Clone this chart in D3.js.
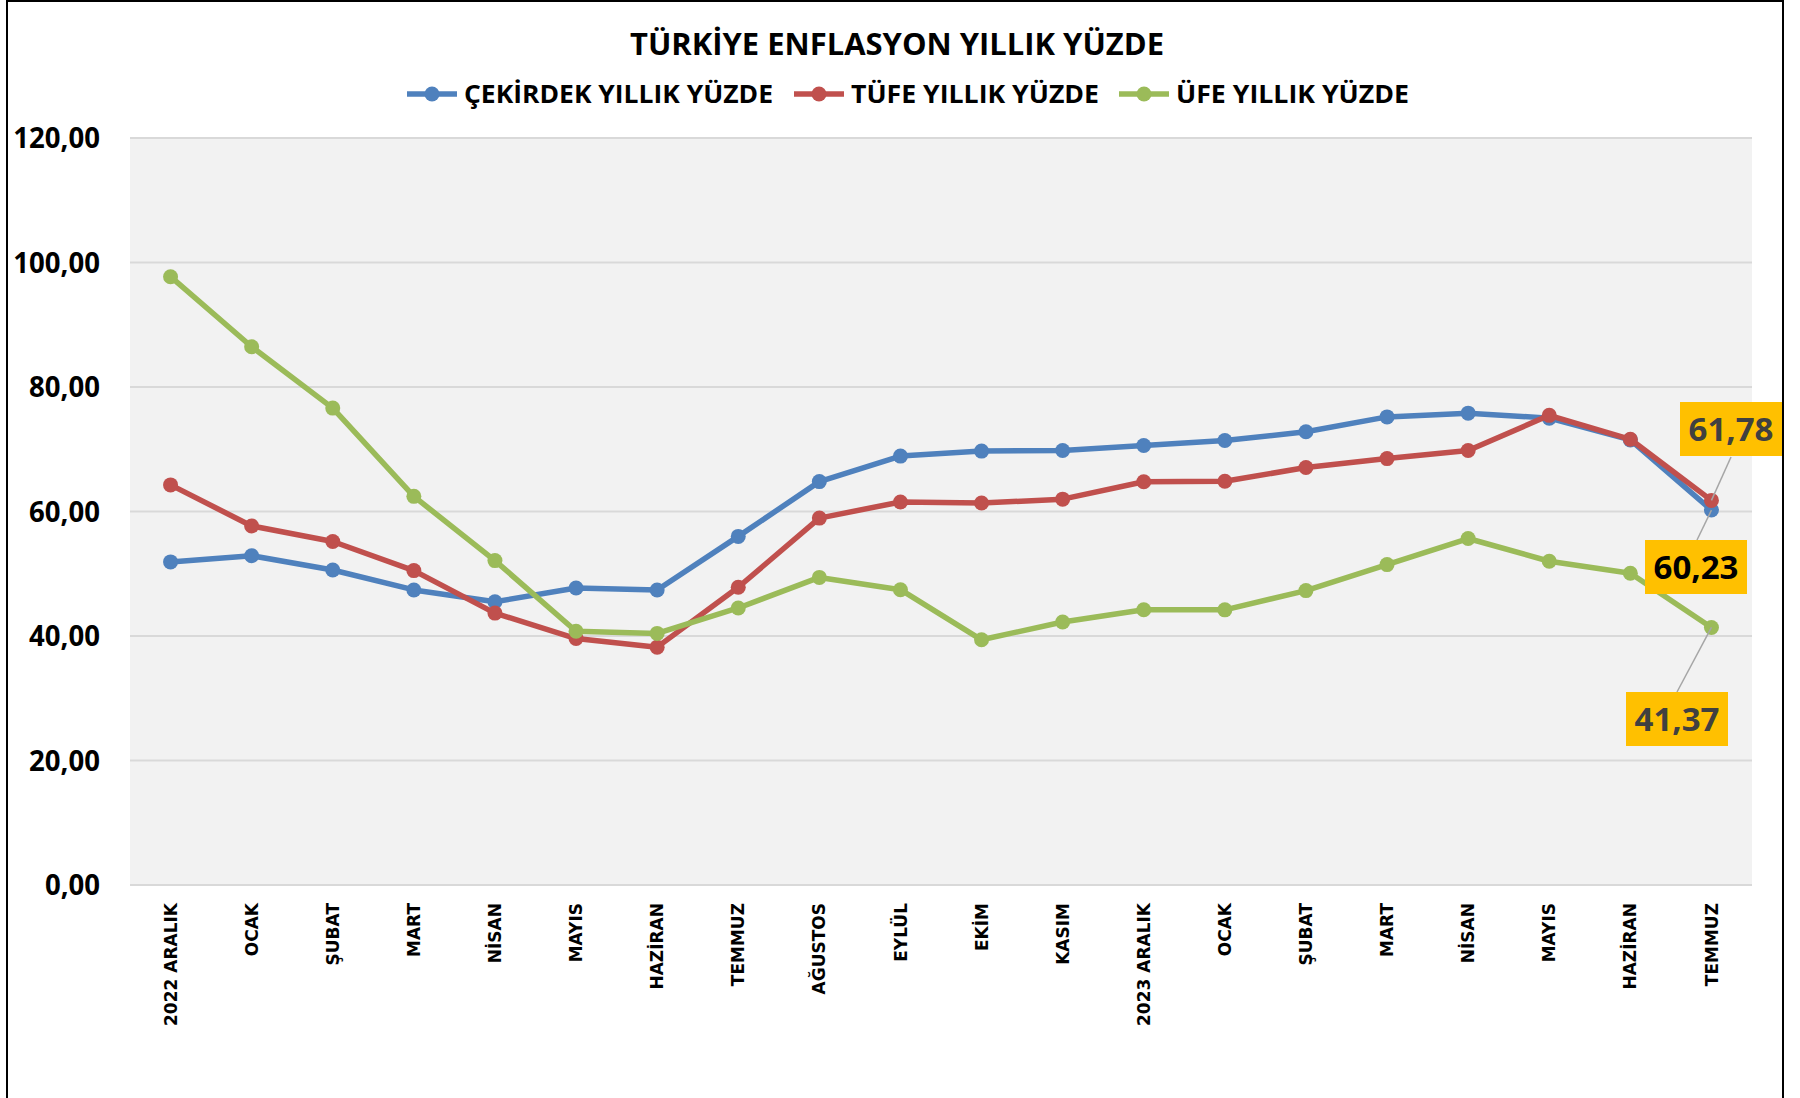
<!DOCTYPE html>
<html>
<head>
<meta charset="utf-8">
<script src="https://d3js.org/d3.v7.min.js"></script>
<style>
  body { margin: 0; background: #fff; }
  svg { display: block; }
  .ytick { font-family: "Open Sans", sans-serif; font-weight: 700; font-size: 29px; fill: #000; }
  .xtick { font-family: "DejaVu Sans", sans-serif; font-weight: bold; font-size: 17px; fill: #000; }
  .title, .legend, .dlabel { font-family: "Open Sans", sans-serif; font-weight: 700; }
</style>
</head>
<body>
<script>
// categories (Aralik 2022 - Temmuz 2024)
const months = ["2022 ARALIK", "OCAK", "ŞUBAT", "MART", "NİSAN", "MAYIS", "HAZİRAN", "TEMMUZ",
  "AĞUSTOS", "EYLÜL", "EKİM", "KASIM", "2023 ARALIK", "OCAK", "ŞUBAT", "MART", "NİSAN",
  "MAYIS", "HAZİRAN", "TEMMUZ"];

const cekirdek = [51.9, 52.9, 50.6, 47.4, 45.5, 47.7, 47.4, 56.0, 64.8, 68.9, 69.7, 69.8,
  70.6, 71.4, 72.8, 75.2, 75.8, 75.0, 71.5, 60.23];
const tufe = [64.27, 57.68, 55.18, 50.51, 43.68, 39.59, 38.21, 47.83, 58.94, 61.53, 61.36, 61.98,
  64.77, 64.86, 67.07, 68.50, 69.80, 75.45, 71.60, 61.78];
const ufe = [97.72, 86.46, 76.61, 62.43, 52.11, 40.76, 40.42, 44.50, 49.41, 47.44, 39.39, 42.25,
  44.22, 44.20, 47.29, 51.47, 55.66, 52.01, 50.09, 41.37];

const yTicks = [0, 20, 40, 60, 80, 100, 120];

const series = [
  { name: "ÇEKİRDEK YILLIK YÜZDE", values: cekirdek, color: "#4F81BD" },
  { name: "TÜFE YILLIK YÜZDE", values: tufe, color: "#C0504D" },
  { name: "ÜFE YILLIK YÜZDE", values: ufe, color: "#9BBB59" }
];

const W = 1800, H = 1098;
const plot = { left: 130, right: 1752, top: 138, bottom: 885 };

const svg = d3.select("body").append("svg")
  .attr("width", W).attr("height", H);

// outer frame
svg.append("rect")
  .attr("x", 7).attr("y", 1).attr("width", 1776).attr("height", H + 10)
  .attr("fill", "#fff").attr("stroke", "#000").attr("stroke-width", 2);

const x = d3.scaleBand().domain(d3.range(months.length)).range([plot.left, plot.right]);
const cx = i => x(i) + x.bandwidth() / 2;
const y = d3.scaleLinear().domain([0, 120]).range([plot.bottom, plot.top]);

// plot background
svg.append("rect")
  .attr("x", plot.left).attr("y", plot.top)
  .attr("width", plot.right - plot.left).attr("height", plot.bottom - plot.top)
  .attr("fill", "#F2F2F2");

// gridlines
svg.selectAll(".grid").data(yTicks).enter().append("line")
  .attr("x1", plot.left).attr("x2", plot.right)
  .attr("y1", d => y(d)).attr("y2", d => y(d))
  .attr("stroke", "#D9D9D9").attr("stroke-width", 2);

// y labels
const fmt = d => d3.format(".2f")(d).replace(".", ",");
svg.selectAll(".ytick").data(yTicks).enter().append("text")
  .attr("class", "ytick")
  .attr("x", 100).attr("y", d => y(d))
  .attr("dy", "0.36em")
  .attr("text-anchor", "end")
  .text(fmt)
  .each(function() {
    const w = this.getComputedTextLength();
    d3.select(this).attr("textLength", w * 0.95).attr("lengthAdjust", "spacingAndGlyphs");
  });

// x labels
svg.selectAll(".xtick").data(months).enter().append("text")
  .attr("class", "xtick")
  .attr("transform", (d, i) => `translate(${cx(i)},903) rotate(-90)`)
  .attr("dy", "0.36em")
  .attr("text-anchor", "end")
  .text(d => d);

// lines
const line = d3.line().x((d, i) => cx(i)).y(d => y(d));
series.forEach(s => {
  const g = svg.append("g");
  g.append("path")
    .attr("d", line(s.values))
    .attr("fill", "none")
    .attr("stroke", s.color)
    .attr("stroke-width", 5.5)
    .attr("stroke-linejoin", "round");
  g.selectAll("circle").data(s.values).enter().append("circle")
    .attr("cx", (d, i) => cx(i)).attr("cy", d => y(d))
    .attr("r", 7.5).attr("fill", s.color);
});

// title
svg.append("text")
  .attr("class", "title")
  .attr("x", 897).attr("y", 55)
  .attr("text-anchor", "middle")
  .attr("font-size", 30)
  .attr("textLength", 534).attr("lengthAdjust", "spacingAndGlyphs")
  .text("TÜRKİYE ENFLASYON YILLIK YÜZDE");

// legend
const legendPos = [
  { lx: 407, tx: 464, tw: 309 },
  { lx: 794, tx: 851, tw: 248 },
  { lx: 1119, tx: 1176, tw: 233 }
];
series.forEach((s, k) => {
  const p = legendPos[k];
  svg.append("line")
    .attr("x1", p.lx).attr("x2", p.lx + 50)
    .attr("y1", 94).attr("y2", 94)
    .attr("stroke", s.color).attr("stroke-width", 5.5);
  svg.append("circle")
    .attr("cx", p.lx + 25).attr("cy", 94).attr("r", 7.5).attr("fill", s.color);
  svg.append("text")
    .attr("class", "legend")
    .attr("x", p.tx).attr("y", 103)
    .attr("font-size", 25)
    .attr("textLength", p.tw).attr("lengthAdjust", "spacingAndGlyphs")
    .text(s.name);
});

// data labels for last point
const last = months.length - 1;
const labels = [
  { s: 1, bx: 1680, by: 402, color: "#404040", ax: 1731, ay: 457 },
  { s: 0, bx: 1645, by: 540, color: "#000000", ax: 1697, ay: 540 },
  { s: 2, bx: 1626, by: 692, color: "#404040", ax: 1677, ay: 692 }
];
labels.forEach(l => {
  const v = series[l.s].values[last];
  svg.append("line")
    .attr("x1", l.ax).attr("y1", l.ay)
    .attr("x2", cx(last)).attr("y2", y(v))
    .attr("stroke", "#A6A6A6").attr("stroke-width", 1.5);
});
labels.forEach(l => {
  const v = series[l.s].values[last];
  svg.append("rect")
    .attr("x", l.bx).attr("y", l.by).attr("width", 102).attr("height", 54)
    .attr("fill", "#FFC000");
  svg.append("text")
    .attr("class", "dlabel")
    .attr("x", l.bx + 51).attr("y", l.by + 27)
    .attr("dy", "0.36em")
    .attr("text-anchor", "middle")
    .attr("font-size", 33)
    .attr("fill", l.color)
    .attr("textLength", 85).attr("lengthAdjust", "spacingAndGlyphs")
    .text(fmt(v));
});
</script>
</body>
</html>
